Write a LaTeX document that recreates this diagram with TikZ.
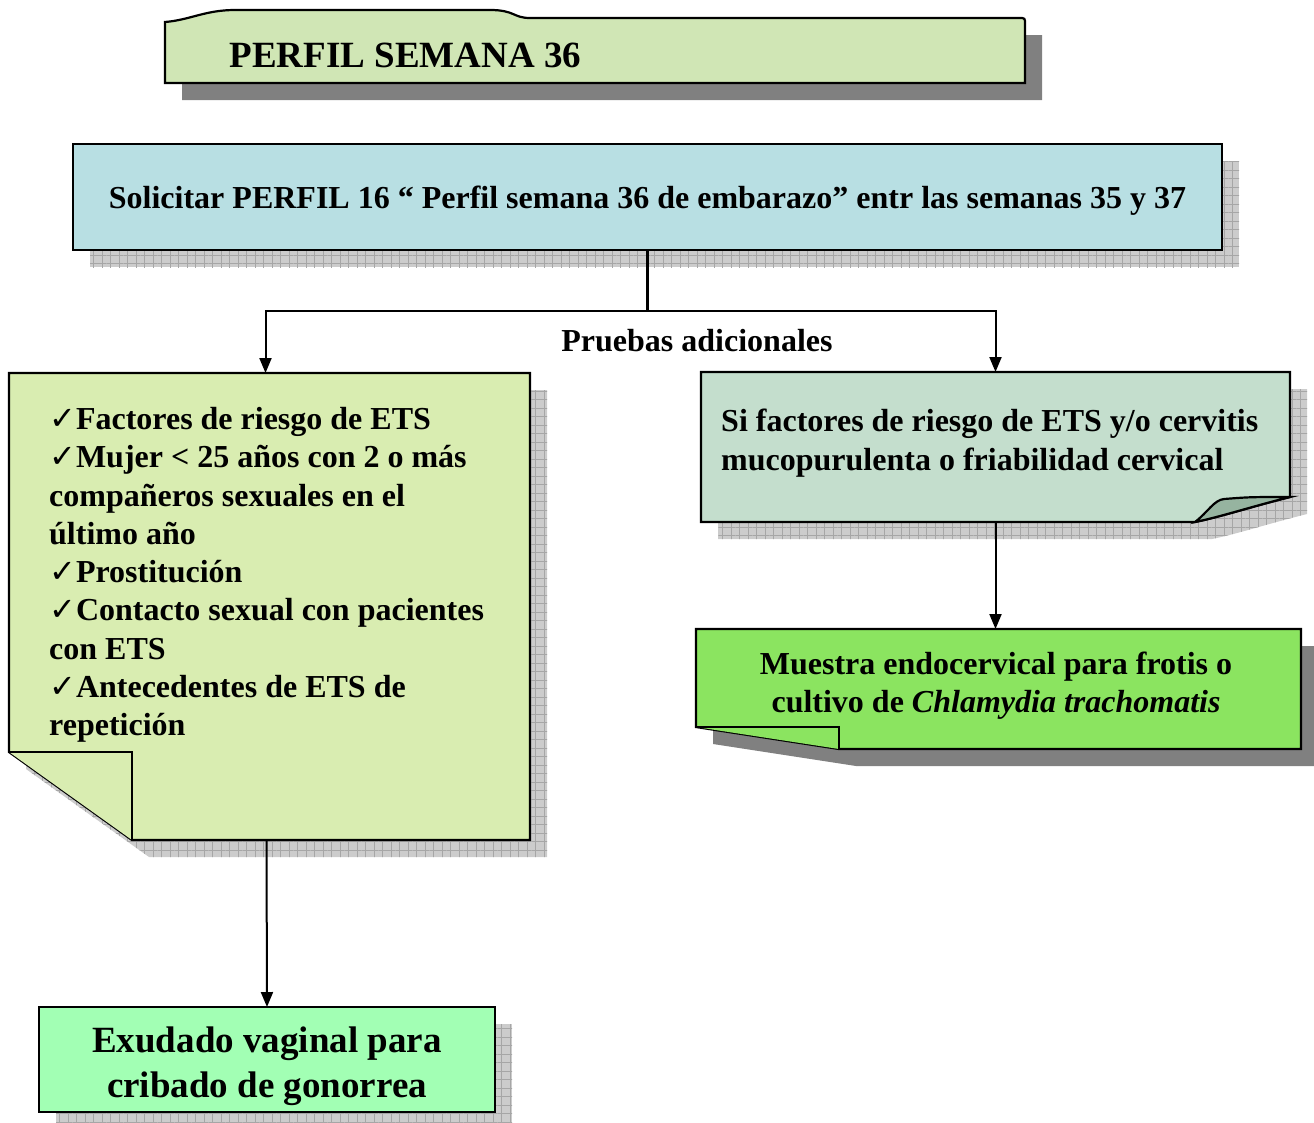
\documentclass[tikz,border=0pt]{standalone}
\usepackage{fontspec}
\setmainfont{Liberation Serif}
\newfontfamily\symfont{DejaVu Sans}
\usetikzlibrary{positioning, calc, arrows.meta, patterns.meta, backgrounds}

\definecolor{titlegreen}{RGB}{208,230,181}
\definecolor{reqblue}{RGB}{184,223,227}
\definecolor{riskgreen}{RGB}{217,237,177}
\definecolor{cervgreen}{RGB}{196,222,205}
\definecolor{curlgreen}{RGB}{150,180,160}
\definecolor{chlamgreen}{RGB}{139,228,96}
\definecolor{gonogreen}{RGB}{162,255,180}
\definecolor{shadowgray}{RGB}{128,128,128}

\tikzstyle{frame} = [rectangle, inner sep=0pt, outer sep=0pt]
\tikzstyle{edge} = [line width=2.2pt, draw=black, line join=miter]
\tikzstyle{gridshadow} = [fill=gray!40, postaction={pattern={Hatch[distance=8.5pt, angle=0, line width=0.6pt]}, pattern color=gray!70}]
\tikzstyle{solidshadow} = [fill=shadowgray]
\tikzstyle{arrow} = [line width=2pt, -{Triangle[length=15pt,width=12pt]}]
\tikzstyle{bodytext} = [inner sep=0pt, font=\fontsize{32}{38.3}\selectfont\bfseries]
\tikzstyle{bigtext} = [font=\fontsize{37}{45}\selectfont\bfseries]

\begin{document}
\begin{tikzpicture}[x=1pt, y=-1pt]
\useasboundingbox (0,0) rectangle (1314,1122);

% title banner
\node (banner) [frame, minimum width=860pt, minimum height=65pt] at (595,50.5) {};
\draw[edge, fill=titlegreen] (banner.south west) -- ($(banner.south west)+(0,-61)$)
  .. controls ($(banner.south west)+(25,-63)$) and ($(banner.south west)+(40,-73)$) .. ($(banner.south west)+(70,-73)$)
  -- ($(banner.south west)+(325,-73)$)
  .. controls ($(banner.south west)+(350,-73)$) and ($(banner.south west)+(348,-65)$) .. ($(banner.south west)+(365,-65)$)
  -- ($(banner.north east)+(-6,0)$) .. controls (banner.north east) .. ($(banner.north east)+(0,6)$)
  -- (banner.south east) -- cycle;
\node (titletext) [bigtext, anchor=west] at (226,55) {PERFIL SEMANA 36};

% request
\node (req) [frame, edge, fill=reqblue, bodytext, text depth=0pt, minimum width=1149pt, minimum height=106pt] at (647.5,197)
  {Solicitar PERFIL 16 “ Perfil semana 36 de embarazo” entr las semanas 35 y 37};

% risk factors
\node (risk) [frame, minimum width=521pt, minimum height=467pt] at (269.5,606.5) {};
\draw[edge, fill=riskgreen] (risk.north west) -- (risk.north east) -- (risk.south east)
  -- ($(risk.south west)+(123,0)$) -- ($(risk.south west)+(0,-88)$) -- cycle;
\draw[edge, fill=riskgreen] ($(risk.south west)+(0,-88)$) -- ($(risk.south west)+(123,-88)$) -- ($(risk.south west)+(123,0)$);
\node (risklist) [bodytext, align=left, anchor=north west] at (49,407)
  {{\symfont\mdseries ✓}Factores de riesgo de ETS\\
   {\symfont\mdseries ✓}Mujer < 25 años con 2 o más\\
   compañeros sexuales en el\\
   último año\\
   {\symfont\mdseries ✓}Prostitución\\
   {\symfont\mdseries ✓}Contacto sexual con pacientes\\
   con ETS\\
   {\symfont\mdseries ✓}Antecedentes de ETS de\\
   repetición};

% cervicitis
\node (cerv) [frame, minimum width=589pt, minimum height=150pt] at (995.5,447) {};
\draw[edge, fill=cervgreen] (cerv.north west) -- (cerv.north east) -- ($(cerv.south east)+(0,-25)$)
  .. controls ($(cerv.south east)+(-40,-15)$) and ($(cerv.south east)+(-70,-5)$) .. ($(cerv.south east)+(-95,0)$)
  -- (cerv.south west) -- cycle;
\draw[edge, fill=curlgreen] ($(cerv.south east)+(-95,0)$)
  .. controls ($(cerv.south east)+(-82,-10)$) and ($(cerv.south east)+(-76,-22)$) .. ($(cerv.south east)+(-66,-23)$)
  .. controls ($(cerv.south east)+(-40,-25)$) .. ($(cerv.south east)+(0,-25)$)
  .. controls ($(cerv.south east)+(-40,-15)$) and ($(cerv.south east)+(-70,-5)$) .. cycle;
\node (cervtext) [bodytext, align=left, anchor=north west] at (721,409)
  {Si factores de riesgo de ETS y/o cervitis\\
   mucopurulenta o friabilidad cervical};

% chlamydia sample
\node (chlam) [frame, minimum width=605pt, minimum height=120pt] at (998.5,689) {};
\draw[edge, fill=chlamgreen] (chlam.north west) -- (chlam.north east) -- (chlam.south east)
  -- ($(chlam.south west)+(143,0)$) -- ($(chlam.south west)+(0,-22)$) -- cycle;
\draw[edge, fill=chlamgreen] ($(chlam.south west)+(0,-22)$) -- ($(chlam.south west)+(143,-22)$) -- ($(chlam.south west)+(143,0)$);
\node (chlamtext) [bodytext, align=center] at (996,686)
  {Muestra endocervical para frotis o\\
   cultivo de {\itshape Chlamydia trachomatis}};

% gonorrhoea
\node (gono) [frame, edge, fill=gonogreen, bigtext, align=center, minimum width=456pt, minimum height=105pt] at (267,1059.5) {};
\node (gonotext) [bigtext, align=center] at (267,1066) {Exudado vaginal para\\cribado de gonorrea};

% connectors
\draw[edge] (req.south) -- ++(0,61) coordinate (fork);
\draw[arrow] (fork) -| ($(risk.north)+(-4,0)$);
\draw[arrow] (fork) -| (cerv.north);
\node (tests) [bodytext] at (697,341) {Pruebas adicionales};
\draw[arrow] ($(risk.south)+(-3,0)$) -- (gono.north);
\draw[arrow] (cerv.south) -- (cerv.south |- chlam.north);

% shadows
\begin{scope}[on background layer]
\begin{scope}[transform canvas={xshift=17pt, yshift=-17pt}]
\fill[solidshadow] (banner.south west) -- ($(banner.south west)+(0,-61)$)
  -- ($(banner.north east)+(0,0)$) -- (banner.south east) -- cycle;
\fill[gridshadow] (req.north west) rectangle (req.south east);
\fill[gridshadow] (risk.north west) -- (risk.north east) -- (risk.south east)
  -- ($(risk.south west)+(123,0)$) -- ($(risk.south west)+(0,-88)$) -- cycle;
\fill[gridshadow] (cerv.north west) -- (cerv.north east) -- ($(cerv.south east)+(0,-25)$)
  .. controls ($(cerv.south east)+(-40,-15)$) and ($(cerv.south east)+(-70,-5)$) .. ($(cerv.south east)+(-95,0)$)
  -- (cerv.south west) -- cycle;
\fill[solidshadow] (chlam.north west) -- (chlam.north east) -- (chlam.south east)
  -- ($(chlam.south west)+(143,0)$) -- ($(chlam.south west)+(0,-22)$) -- cycle;
\fill[gridshadow] (gono.north west) rectangle (gono.south east);
\end{scope}
\end{scope}
\end{tikzpicture}
\end{document}
